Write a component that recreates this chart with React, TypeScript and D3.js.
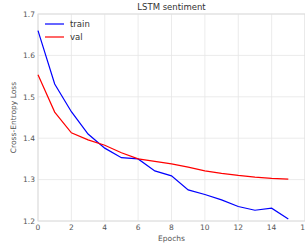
import * as d3 from 'd3';
import React from 'react';

const epochs = [0, 1, 2, 3, 4, 5, 6, 7, 8, 9, 10, 11, 12, 13, 14, 15];
const trainLoss = [1.66, 1.531, 1.464, 1.41, 1.376, 1.353, 1.35, 1.321, 1.309, 1.275, 1.264, 1.251, 1.235, 1.226, 1.231, 1.205];
const valLoss = [1.553, 1.463, 1.413, 1.396, 1.383, 1.365, 1.35, 1.344, 1.338, 1.33, 1.321, 1.315, 1.31, 1.306, 1.303, 1.301];
const xTicks = [0, 2, 4, 6, 8, 10, 12, 14, 16];
const yTicks = [1.2, 1.3, 1.4, 1.5, 1.6, 1.7];
const series = [
  { name: 'train', values: trainLoss, color: '#0000ff' },
  { name: 'val', values: valLoss, color: '#ff0000' },
];

export default function App() {
  const width = 305;
  const height = 247;
  const margin = { top: 14, right: 0, bottom: 26, left: 38 };
  const font = 'DejaVu Sans, sans-serif';

  const x = d3.scaleLinear().domain([0, 16]).range([margin.left, width - margin.right]);
  const y = d3.scaleLinear().domain([1.2, 1.7]).range([height - margin.bottom, margin.top]);

  const line = d3
    .line<number>()
    .x((_, i) => x(epochs[i]))
    .y((d) => y(d));

  return (
    <svg
      width={width}
      height={height}
      style={{ position: 'absolute', left: 0, top: 0, background: '#fff' }}
      fontFamily={font}
    >
      <rect x={0} y={0} width={width} height={height} fill="#fff" />
      {xTicks.map((t) => (
        <line key={`gx-${t}`} x1={x(t)} x2={x(t)} y1={y(1.2)} y2={y(1.7)} stroke="#e6e6e6" strokeWidth={0.8} />
      ))}
      {yTicks.map((t) => (
        <line key={`gy-${t}`} x1={x(0)} x2={x(16)} y1={y(t)} y2={y(t)} stroke="#e6e6e6" strokeWidth={0.8} />
      ))}
      <rect
        x={x(0)}
        y={y(1.7)}
        width={x(16) - x(0)}
        height={y(1.2) - y(1.7)}
        fill="none"
        stroke="#dedede"
        strokeWidth={1}
      />
      {series.map((s) => (
        <path key={s.name} d={line(s.values) || ''} fill="none" stroke={s.color} strokeWidth={1.2} />
      ))}
      {xTicks.map((t) => (
        <text key={`tx-${t}`} x={x(t)} y={y(1.2) + 8.5} fontSize={7.5} fill="#555" textAnchor="middle">
          {t}
        </text>
      ))}
      {yTicks.map((t) => (
        <text key={`ty-${t}`} x={x(0) - 3} y={y(t) + 2.7} fontSize={7.5} fill="#555" textAnchor="end">
          {t.toFixed(1)}
        </text>
      ))}
      <text x={(x(0) + x(16)) / 2} y={240.5} fontSize={7.5} fill="#555" textAnchor="middle">
        Epochs
      </text>
      <text
        transform={`translate(16, ${(y(1.2) + y(1.7)) / 2}) rotate(-90)`}
        fontSize={7.5}
        fill="#555"
        textAnchor="middle"
      >
        Cross-Entropy Loss
      </text>
      <text x={(x(0) + x(16)) / 2} y={10} fontSize={8.5} fill="#333" textAnchor="middle">
        LSTM sentiment
      </text>
      {series.map((s, i) => (
        <g key={`lg-${s.name}`} transform={`translate(45, ${24 + i * 13})`}>
          <line x1={0} x2={19} y1={0} y2={0} stroke={s.color} strokeWidth={1.2} />
          <text x={25} y={3} fontSize={8.5} fill="#333">
            {s.name}
          </text>
        </g>
      ))}
    </svg>
  );
}
